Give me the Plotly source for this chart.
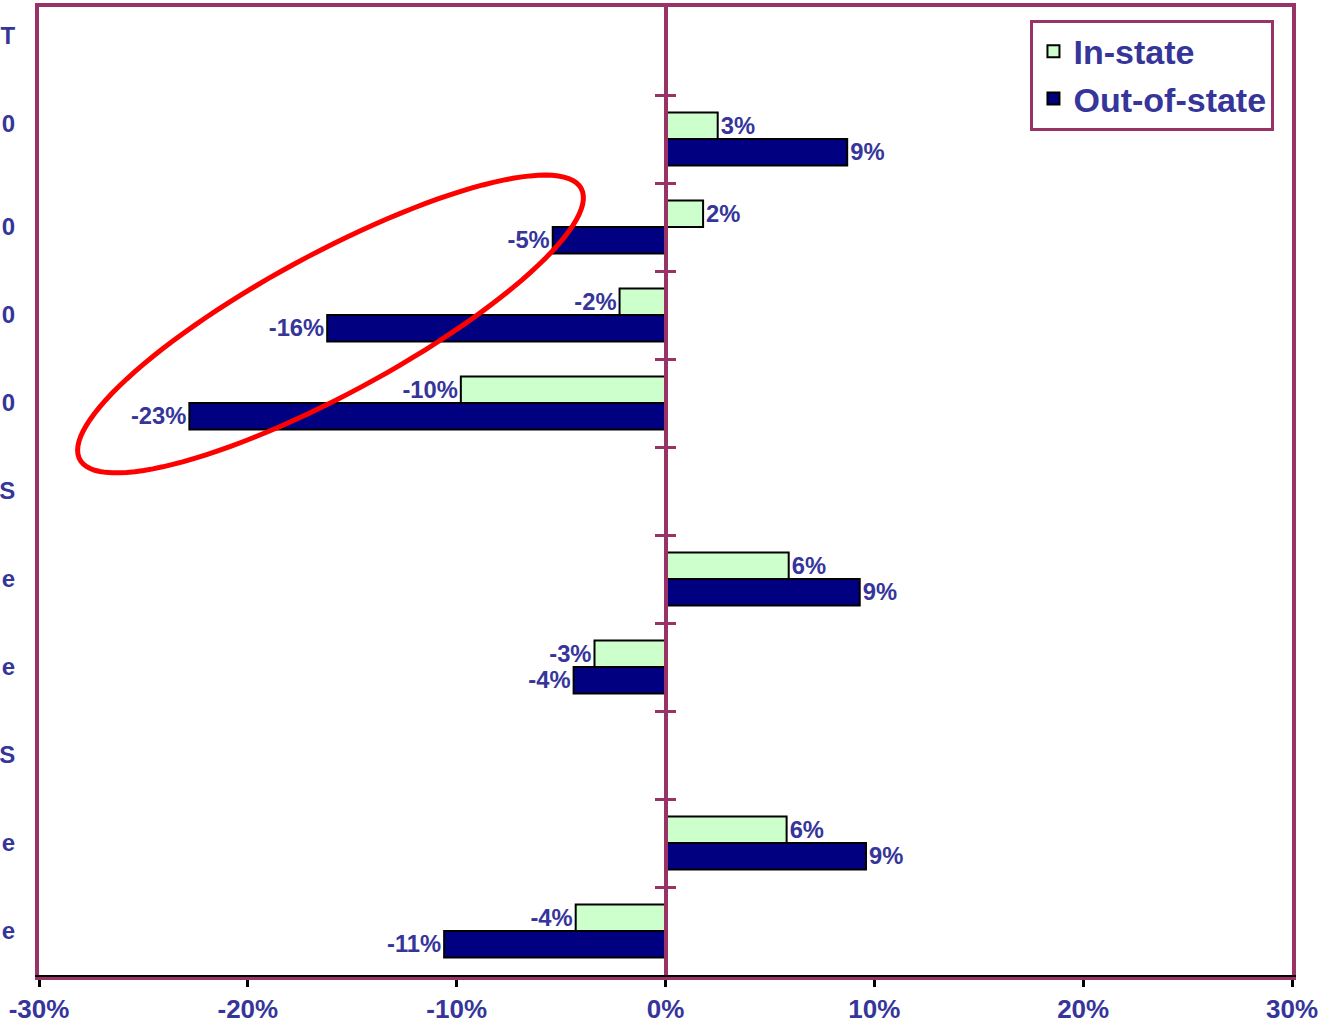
import numpy as np
import plotly.graph_objects as go

# ---------------- data ----------------
cat_labels = ["T<br> ", "0<br> ", "0", "0", "0", "S", "e", "e", "S", "e", "e"]
in_state = [None, 2.5, 1.8, -2.2, -9.8, None, 5.9, -3.4, None, 5.8, -4.3]
out_state = [None, 8.7, -5.4, -16.2, -22.8, None, 9.3, -4.4, None, 9.6, -10.6]
in_labels = ["", "3%", "2%", "-2%", "-10%", "", "6%", "-3%", "", "6%", "-4%"]
out_labels = ["", "9%", "-5%", "-16%", "-23%", "", "9%", "-4%", "", "9%", "-11%"]
x_ticks = [-30, -20, -10, 0, 10, 20, 30]
x_tick_labels = ["-30%", "-20%", "-10%", "0%", "10%", "20%", "30%"]

# ---------------- style ----------------
W, H = 1318, 1029
ML, MR, MT, MB = 39, 26, 7, 54
BLUE = "#35359a"
PLUM = "#993366"
FONT = "Liberation Sans"

n = len(cat_labels)
ypos = list(range(n))
yrange = [n - 0.5, -0.5]
boundaries = [i + 0.5 for i in range(n - 1)]

fig = go.Figure()
fig.add_trace(go.Bar(
    y=ypos, x=in_state, orientation="h", name="In-state",
    marker=dict(color="#ccffcc", line=dict(color="black", width=2)),
    text=in_labels, textposition="outside", cliponaxis=False,
    textfont=dict(family=FONT, size=27, color=BLUE, weight="bold"),
))
fig.add_trace(go.Bar(
    y=ypos, x=out_state, orientation="h", name="Out-of-state",
    marker=dict(color="#000080", line=dict(color="black", width=2)),
    text=out_labels, textposition="outside", cliponaxis=False,
    textfont=dict(family=FONT, size=27, color=BLUE, weight="bold"),
))
# dummy traces to activate the extra axes
for ax in ("y2", "y3"):
    fig.add_trace(go.Scatter(x=[None], y=[None], yaxis=ax, showlegend=False,
                             hoverinfo="skip", mode="markers"))
for ax in ("x2", "x3"):
    fig.add_trace(go.Scatter(x=[None], y=[None], xaxis=ax, showlegend=False,
                             hoverinfo="skip", mode="markers"))

# red ellipse (decoration), defined in pixel space then converted to paper coords
cx, cy, a, b, th = 330.5, 324.0, 285.0, 70.0, np.deg2rad(28.4)
t = np.linspace(0, 2 * np.pi, 120)
X = cx + a * np.cos(t) * np.cos(th) - b * np.sin(t) * np.sin(th)
Y = cy - (a * np.cos(t) * np.sin(th) + b * np.sin(t) * np.cos(th))
pw, ph = W - ML - MR, H - MT - MB
PX = (X - ML) / pw
PY = (H - MB - Y) / ph
path = "M " + " L ".join(f"{px:.5f},{py:.5f}" for px, py in zip(PX, PY)) + " Z"

xtickfont = dict(family=FONT, size=26, color=BLUE, weight="bold")
ytickfont = dict(family=FONT, size=24, color=BLUE, weight="bold")

fig.update_layout(
    width=W, height=H,
    margin=dict(l=ML, r=MR, t=MT, b=MB, autoexpand=False),
    paper_bgcolor="white", plot_bgcolor="white",
    barmode="group", bargap=0.4, bargroupgap=0.0,
    showlegend=True,
    legend=dict(
        x=0.986, y=0.987, xanchor="right", yanchor="top",
        bordercolor=PLUM, borderwidth=3, bgcolor="white",
        font=dict(family=FONT, size=34, color=BLUE, weight="bold"),
        itemwidth=30, tracegroupgap=0,
    ),
    xaxis=dict(
        range=[-30, 30], tickvals=x_ticks, ticktext=x_tick_labels,
        ticks="outside", ticklen=7, tickwidth=3, tickcolor="black",
        showline=True, linecolor=PLUM, linewidth=5, automargin=False,
        showgrid=False, zeroline=False, tickfont=xtickfont,
        ticklabeloverflow="allow",
    ),
    xaxis2=dict(
        range=[-30, 30], overlaying="x", side="top", showline=True,
        linecolor=PLUM, linewidth=4, ticks="", showticklabels=False,
        showgrid=False, zeroline=False, automargin=False,
    ),
    xaxis3=dict(
        range=[-30, 30], overlaying="x", side="bottom", showline=True,
        linecolor="black", linewidth=2, ticks="", showticklabels=False,
        showgrid=False, zeroline=False, automargin=False,
    ),
    yaxis=dict(
        range=yrange, tickvals=ypos, ticktext=cat_labels,
        ticks="", showgrid=False, zeroline=False,
        showline=True, linecolor=PLUM, linewidth=4, mirror=True,
        tickfont=ytickfont, ticklabelstandoff=15, automargin=False,
        ticklabeloverflow="allow",
    ),
    yaxis2=dict(
        range=yrange, overlaying="y", anchor="free", position=0.5,
        showline=True, linecolor=PLUM, linewidth=4, automargin=False,
        tickvals=boundaries, ticks="outside", ticklen=9, tickwidth=3,
        tickcolor=PLUM, showticklabels=False, showgrid=False, zeroline=False,
    ),
    yaxis3=dict(
        range=yrange, overlaying="y", anchor="free", position=0.5,
        showline=False, tickvals=boundaries, ticks="inside", ticklen=9,
        tickwidth=3, tickcolor=PLUM, showticklabels=False, showgrid=False,
        zeroline=False, automargin=False,
    ),
    shapes=[dict(type="path", xref="paper", yref="paper", path=path,
                 line=dict(color="#ff0000", width=5), fillcolor="rgba(0,0,0,0)",
                 layer="above")],
)

fig.write_html("out.html")
